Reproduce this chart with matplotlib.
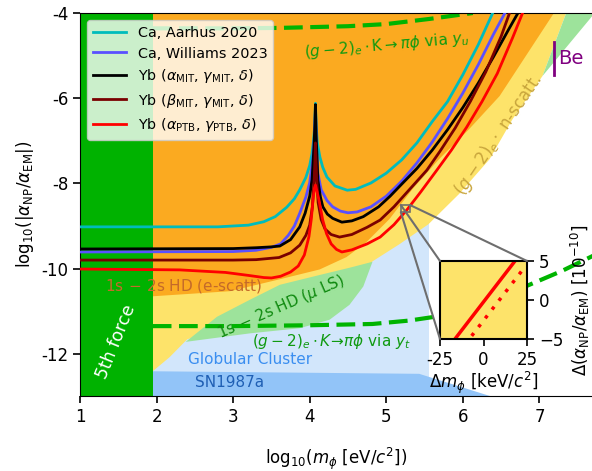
import numpy as np
import matplotlib
matplotlib.use("Agg")
import matplotlib.pyplot as plt
from matplotlib.patches import Polygon, Rectangle, ConnectionPatch

# ---------------- exclusion regions (log10 m, log10 alpha) ----------------
fifth_force_x = [1.0, 1.95]

sn1987a_x = [1.95, 1.95, 5.43, 6.37]
sn1987a_y = [-13.0, -12.41, -12.47, -13.0]

globular_x = [1.95, 1.95, 5.56, 5.56]
globular_y = [-13.0, -8.9, -8.9, -13.0]

nscatt_x = [1.95, 1.95, 2.17, 2.40, 2.79, 3.61, 4.26, 4.65, 4.82, 5.17, 5.55,
            5.95, 6.35, 6.65, 7.04, 7.35]
nscatt_y = [-4.0, -12.41, -12.08, -11.66, -11.42, -10.95, -10.60, -10.13, -9.83,
            -9.43, -8.96, -8.25, -7.43, -6.49, -5.48, -4.0]

escatt_x = [1.95, 1.95, 2.96, 3.61, 4.13, 4.48, 4.74, 5.04, 5.34, 5.69, 6.08, 6.48, 7.19]
escatt_y = [-4.0, -10.65, -10.53, -10.25, -10.02, -9.73, -9.38, -8.84, -8.14,
            -7.43, -6.73, -5.95, -4.0]

muls_x = [2.38, 2.79, 3.22, 3.61, 4.13, 4.52, 4.82, 4.70, 4.52, 4.26, 3.87, 3.22, 2.38]
muls_y = [-11.72, -11.13, -10.73, -10.38, -10.15, -9.98, -9.84, -10.42, -10.85,
          -11.20, -11.40, -11.52, -11.72]

be_x = [7.04, 7.35, 7.70, 7.70]
be_y = [-5.48, -4.0, -4.0, -4.05]

# (g-2)_e x K -> pi phi projections
yu_x = [1.95, 3.0, 3.61, 4.5, 5.0, 5.56, 6.13]
yu_y = [-4.36, -4.36, -4.35, -4.31, -4.26, -4.14, -4.0]

yt_x = [1.95, 3.0, 4.0, 4.82, 5.3, 5.6, 6.0, 6.4, 6.83, 7.3, 7.7]
yt_y = [-11.35, -11.35, -11.33, -11.30, -11.22, -11.14, -10.98, -10.75, -10.41,
        -10.05, -9.70]

# ---------------- isotope-shift bounds ----------------
ca_aarhus_x = [1.0, 2.8, 3.2, 3.4, 3.55, 3.70, 3.80, 3.87, 3.95, 4.00, 4.03, 4.05,
               4.065, 4.075, 4.085, 4.10, 4.133, 4.17, 4.225, 4.33, 4.49, 4.60,
               4.80, 5.00, 5.20, 5.40, 5.60, 5.80, 6.00, 6.20, 6.39]
ca_aarhus_y = [-9.02, -9.02, -8.98, -8.90, -8.78, -8.56, -8.36, -8.15, -7.86, -7.58,
               -7.30, -7.00, -6.65, -6.12, -6.65, -7.05, -7.38, -7.62, -7.85, -8.06,
               -8.16, -8.14, -7.99, -7.76, -7.45, -7.05, -6.55, -6.08, -5.45,
               -4.75, -4.0]

ca_williams_x = [1.0, 3.0, 3.3, 3.5, 3.62, 3.72, 3.80, 3.87, 3.95, 4.00, 4.04,
                 4.06, 4.075, 4.09, 4.107, 4.15, 4.225, 4.30, 4.40, 4.50, 4.62,
                 4.80, 5.00, 5.20, 5.40, 5.60, 5.80, 6.00, 6.20, 6.40, 6.55]
ca_williams_y = [-9.61, -9.60, -9.57, -9.50, -9.42, -9.22, -9.00, -8.70, -8.32,
                 -7.98, -7.45, -6.95, -6.30, -7.20, -7.76, -8.15, -8.40, -8.55,
                 -8.65, -8.69, -8.67, -8.55, -8.30, -7.95, -7.52, -7.03, -6.48,
                 -5.88, -5.22, -4.50, -4.0]

yb_mit_x = [1.0, 3.0, 3.3, 3.5, 3.61, 3.75, 3.87, 3.94, 4.00, 4.03, 4.055, 4.068,
            4.075, 4.085, 4.107, 4.14, 4.172, 4.23, 4.30, 4.42, 4.55, 4.70, 4.90,
            5.05, 5.20, 5.40, 5.60, 5.80, 6.00, 6.20, 6.40, 6.60, 6.72]
yb_mit_y = [-9.54, -9.53, -9.51, -9.49, -9.47, -9.32, -9.02, -8.70, -8.30, -7.92,
            -7.15, -6.60, -6.15, -6.90, -7.92, -8.32, -8.55, -8.72, -8.82, -8.91,
            -8.88, -8.78, -8.55, -8.30, -8.02, -7.65, -7.22, -6.74, -6.22, -5.65,
            -5.03, -4.38, -4.0]

yb_beta_x = [1.0, 3.0, 3.3, 3.6, 3.75, 3.87, 3.95, 4.00, 4.035, 4.06, 4.075,
             4.09, 4.11, 4.15, 4.20, 4.28, 4.39, 4.55, 4.75, 4.92, 5.10, 5.30,
             5.53, 5.70, 5.90, 6.10, 6.30, 6.50, 6.61]
yb_beta_y = [-9.80, -9.80, -9.79, -9.74, -9.63, -9.45, -9.22, -8.98, -8.55, -7.85,
             -7.05, -7.85, -8.45, -8.85, -9.07, -9.20, -9.26, -9.20, -9.03, -8.86,
             -8.55, -8.15, -7.69, -7.25, -6.70, -6.07, -5.38, -4.55, -4.0]

yb_ptb_x = [1.0, 2.3, 2.9, 3.2, 3.4, 3.5, 3.62, 3.75, 3.85, 3.93, 3.99, 4.02,
            4.04, 4.06, 4.075, 4.09, 4.12, 4.17, 4.22, 4.28, 4.35, 4.42, 4.55,
            4.75, 4.92, 5.10, 5.27, 5.45, 5.66, 5.85, 6.05, 6.25, 6.45, 6.65, 6.78]
yb_ptb_y = [-10.01, -10.03, -10.09, -10.16, -10.21, -10.22, -10.18, -10.08, -9.94,
            -9.68, -9.25, -8.85, -8.45, -8.12, -8.04, -8.15, -8.38, -8.86, -9.18,
            -9.42, -9.55, -9.61, -9.56, -9.42, -9.26, -8.97, -8.62, -8.20, -7.69,
            -7.22, -6.68, -6.08, -5.42, -4.58, -4.0]

bound_labels = ["Ca, Aarhus 2020", "Ca, Williams 2023",
                r"Yb ($\alpha_{\rm MIT}$, $\gamma_{\rm MIT}$, $\delta$)",
                r"Yb ($\beta_{\rm MIT}$, $\gamma_{\rm MIT}$, $\delta$)",
                r"Yb ($\alpha_{\rm PTB}$, $\gamma_{\rm PTB}$, $\delta$)"]
bound_colors = ["#00bcbc", "#5a50ff", "black", "#7a0000", "red"]

# zoomed window around m = 180 keV, alpha = 2.6e-9
zoom_m_kev = [155.0, 205.0]
zoom_alpha = [2.1e-9, 3.1e-9]
inset_dm = [-25, 0, 25]
inset_da = [-5, 0, 5]
inset_solid_x = [-16.4, 18.1]
inset_solid_y = [-5.0, 5.0]
inset_dot_x = [-6.8, 23.3]
inset_dot_y = [-4.6, 4.1]

c_dark_green = "#00b200"
c_light_green = "#9de39b"
c_orange = "#fbaa20"
c_yellow = "#fde36a"
c_gc = "#d2e6fb"
c_sn = "#92c4f8"
c_dash = "#00b400"

fig = plt.figure(figsize=(5.92, 4.71), dpi=100)
ax = fig.add_axes([80 / 592, (471 - 396.4) / 471, 513 / 592, 383.4 / 471])
ax.set_xlim(1, 7.70)
ax.set_ylim(-13, -4)

def fill(xs, ys, color, z):
    ax.add_patch(Polygon(np.column_stack([xs, ys]), closed=True, facecolor=color,
                         edgecolor="none", zorder=z))

fill(globular_x, globular_y, c_gc, 1)
fill(sn1987a_x, sn1987a_y, c_sn, 1.1)
fill(nscatt_x, nscatt_y, c_yellow, 1.2)
fill(escatt_x, escatt_y, c_orange, 1.3)
fill(muls_x, muls_y, c_light_green, 1.4)
fill(be_x, be_y, c_light_green, 1.4)
ax.axvspan(fifth_force_x[0], fifth_force_x[1], color=c_dark_green, lw=0, zorder=1.5)

ax.plot(yu_x, yu_y, color=c_dash, lw=3, dashes=(4.5, 1.8), zorder=2)
ax.plot(yt_x, yt_y, color=c_dash, lw=3, dashes=(4.5, 1.8), zorder=2)

bounds = [(ca_aarhus_x, ca_aarhus_y), (ca_williams_x, ca_williams_y),
          (yb_mit_x, yb_mit_y), (yb_beta_x, yb_beta_y), (yb_ptb_x, yb_ptb_y)]
for (bx, by), lab, col in zip(bounds, bound_labels, bound_colors):
    ax.plot(bx, by, color=col, lw=2, label=lab, zorder=3, solid_joinstyle="round")

# Be line
ax.plot([7.19, 7.19], [-4.68, -5.46], color="purple", lw=2, zorder=3)
ax.text(7.25, -5.07, "Be", color="purple", fontsize=14, va="center", ha="left")

# region labels
ax.text(1.47, -11.71, "5th force", color="white", fontsize=12.5, rotation=68,
        ha="center", va="center", zorder=4)
ax.text(1.33, -10.41, r"1s$\,-\,$2s HD (e-scatt)", color="#c46a2a", fontsize=11,
        ha="left", va="center", zorder=4)
ax.text(3.63, -10.91, r"1s$\,-\,$2s HD ($\mu$ LS)", color="#108a10", fontsize=11,
        rotation=23.5, ha="center", va="center", zorder=4)
ax.text(2.41, -12.13, "Globular Cluster", color="#3a8ef0", fontsize=11,
        ha="left", va="center", zorder=4)
ax.text(2.50, -12.67, "SN1987a", color="#1f5fb4", fontsize=11,
        ha="left", va="center", zorder=4)
ax.text(4.28, -11.72, r"$(g-2)_e\cdot K\!\rightarrow\!\pi\phi$ via $y_t$",
        color="#109a10", fontsize=11, ha="center", va="center", zorder=4)
ax.text(5.0, -4.75, r"$(g-2)_e\cdot$K$\rightarrow\pi\phi$ via $y_u$",
        color="#109a10", fontsize=11, rotation=5, ha="center", va="center", zorder=4)
ax.text(6.47, -6.85, r"$(g-2)_e\cdot$ n-scatt.", color="#c8a53c", fontsize=12,
        rotation=56, ha="center", va="center", zorder=4)

ax.set_xticks([1, 2, 3, 4, 5, 6, 7])
ax.set_yticks([-12, -10, -8, -6, -4])
ax.set_yticklabels(["-12", "-10", "-8", "-6", "-4"])
ax.tick_params(labelsize=12, width=1.2, length=5)
ax.set_xlabel(r"log$_{10}$($m_\phi$ [eV/$c^2$])", fontsize=12, labelpad=14)
ax.set_ylabel(r"log$_{10}$(|$\alpha_{\rm NP}/\alpha_{\rm EM}$|)", fontsize=12)

leg = ax.legend(loc="upper left", fontsize=10.4, framealpha=0.8, handlelength=2.3,
                borderaxespad=0.5, labelspacing=0.45)
leg.set_zorder(5)

# zoom box and inset
bx0, bx1 = np.log10(np.array(zoom_m_kev) * 1e3)
by0, by1 = np.log10(zoom_alpha)
ax.add_patch(Rectangle((bx0, by0), bx1 - bx0, by1 - by0, facecolor="none",
                       edgecolor="#6e6e6e", lw=1.2, zorder=6))

axins = fig.add_axes([440 / 592, (471 - 339) / 471, 87 / 592, 78 / 471])
axins.set_facecolor(c_yellow)
axins.plot(inset_solid_x, inset_solid_y, color="red", lw=2.5)
axins.plot(inset_dot_x, inset_dot_y, color="red", lw=2.5, linestyle=(0, (1, 2.2)))
axins.set_xlim(-25, 25)
axins.set_ylim(-5, 5)
axins.set_xticks(inset_dm)
axins.set_xticklabels(["-25", "0", "25"])
axins.set_yticks(inset_da)
axins.yaxis.tick_right()
axins.yaxis.set_label_position("right")
axins.tick_params(labelsize=12, width=1.2, length=5)
axins.set_xlabel(r"$\Delta m_\phi$ [keV/$c^2$]", fontsize=12, labelpad=1)
axins.set_ylabel(r"$\Delta(\alpha_{\rm NP}/\alpha_{\rm EM})$ [$10^{-10}$]", fontsize=12)
for s in axins.spines.values():
    s.set_linewidth(1.5)

for (xa, ya), (xb, yb) in [((bx0, by0), (-25, -5)), ((bx0, by1), (-25, 5)),
                           ((bx1, by1), (25, 5))]:
    con = ConnectionPatch(xyA=(xa, ya), coordsA=ax.transData, xyB=(xb, yb),
                          coordsB=axins.transData, color="#6e6e6e", lw=1.5, zorder=6)
    fig.add_artist(con)

fig.savefig("out.png", dpi=100)
